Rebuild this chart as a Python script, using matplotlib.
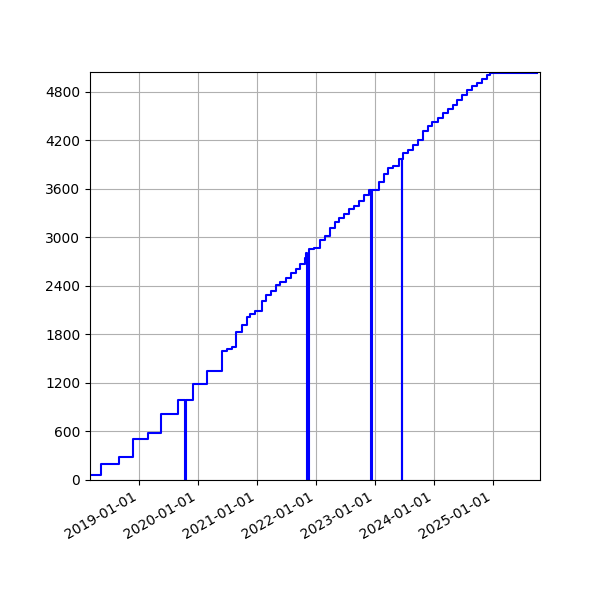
import matplotlib
matplotlib.use("Agg")
import matplotlib.pyplot as plt
import matplotlib.dates as mdates
from matplotlib.ticker import MultipleLocator
import pandas as pd

dates = [
    "2018-03-02", "2018-05-12", "2018-08-28", "2018-11-25", "2019-02-25",
    "2019-05-17", "2019-08-29", "2019-10-15", "2019-10-16", "2019-11-28",
    "2020-02-26", "2020-05-28", "2020-07-01", "2020-07-27", "2020-08-24",
    "2020-09-27", "2020-10-28", "2020-11-21", "2020-12-18", "2021-02-01",
    "2021-02-26", "2021-03-29", "2021-04-27", "2021-05-26", "2021-06-28",
    "2021-07-29", "2021-08-29", "2021-09-27", "2021-10-26", "2021-11-01",
    "2021-11-08", "2021-11-16", "2021-12-19", "2022-01-25", "2022-02-25",
    "2022-03-28", "2022-04-28", "2022-05-25", "2022-06-25", "2022-07-26",
    "2022-08-26", "2022-09-26", "2022-10-28", "2022-11-25", "2022-12-09",
    "2022-12-16", "2023-01-28", "2023-02-26", "2023-03-25", "2023-04-25",
    "2023-05-31", "2023-06-20", "2023-06-21", "2023-06-27", "2023-07-25",
    "2023-08-26", "2023-09-23", "2023-10-25", "2023-11-25", "2023-12-23",
    "2024-01-25", "2024-02-25", "2024-03-27", "2024-04-27", "2024-05-26",
    "2024-06-24", "2024-07-27", "2024-08-25", "2024-09-23", "2024-10-26",
    "2024-11-24", "2024-12-15", "2025-09-30",
]
values = [
    66, 198, 281, 503, 581,
    812, 986, 0, 986, 1184,
    1352, 1600, 1620, 1641, 1835,
    1918, 2020, 2053, 2091, 2218,
    2285, 2338, 2408, 2446, 2503,
    2557, 2614, 2676, 2743, 2805,
    0, 2858, 2875, 2965, 3020,
    3113, 3196, 3237, 3290, 3349,
    3389, 3451, 3520, 3588, 0,
    3588, 3690, 3782, 3856, 3885,
    3967, 0, 3967, 4045, 4085,
    4150, 4200, 4314, 4376, 4429,
    4478, 4540, 4594, 4643, 4697,
    4759, 4821, 4874, 4915, 4965,
    5014, 5035, 5035,
]
x_limits = ["2018-03-02", "2025-10-21"]
y_limits = [0, 5047]

x = pd.to_datetime(dates)

fig = plt.figure(figsize=(6, 6), dpi=100)
ax = fig.add_subplot(111)
fig.subplots_adjust(left=0.15, right=0.9, top=0.88, bottom=0.2)

ax.plot(x, values, color="blue", linewidth=1.5, drawstyle="steps-post")
ax.set_xlim(pd.to_datetime(x_limits[0]), pd.to_datetime(x_limits[1]))
ax.set_ylim(*y_limits)
ax.yaxis.set_major_locator(MultipleLocator(600))
ax.xaxis.set_major_locator(mdates.YearLocator())
ax.xaxis.set_major_formatter(mdates.DateFormatter("%Y-%m-%d"))
ax.grid(True)
for lbl in ax.get_xticklabels():
    lbl.set_rotation(30)
    lbl.set_ha("right")

fig.savefig("out.png", dpi=100)
